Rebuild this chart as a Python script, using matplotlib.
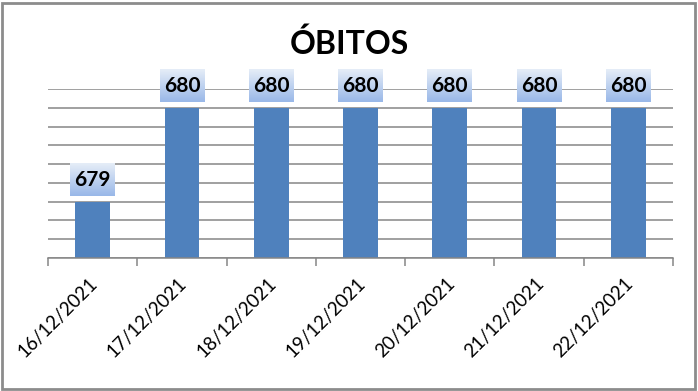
import numpy as np
import matplotlib
matplotlib.use("Agg")
import matplotlib.pyplot as plt
from matplotlib.patches import Rectangle
from matplotlib.transforms import ScaledTranslation

datas = ["16/12/2021", "17/12/2021", "18/12/2021", "19/12/2021",
         "20/12/2021", "21/12/2021", "22/12/2021"]
obitos = [679, 680, 680, 680, 680, 680, 680]

plt.rcParams['font.family'] = ['Lato', 'DejaVu Sans']

fig = plt.figure(figsize=(6.98, 3.91), dpi=100)
ax = fig.add_axes([48 / 698, 1 - 258 / 391, 625 / 698, 169 / 391])

x = np.arange(len(datas))
ymin, ymax = 678.4, 680.2
ax.bar(x, [v - ymin for v in obitos], bottom=ymin, width=0.39,
       color="#4F81BD", zorder=3)

ax.set_xlim(-0.5, len(datas) - 0.5)
ax.set_ylim(ymin, ymax)
ax.set_yticks(np.arange(ymin, ymax + 0.01, 0.2))
ax.yaxis.grid(True, color="#868686", linewidth=1.1)
ax.tick_params(axis='y', left=False, labelleft=False)
for s in ["left", "right", "top"]:
    ax.spines[s].set_visible(False)
ax.spines["bottom"].set_color("#868686")
ax.spines["bottom"].set_linewidth(1.1)
ax.spines["bottom"].set_zorder(4)

# ticks at category boundaries, labels at centres
ax.set_xticks(np.arange(-0.5, len(datas), 1.0))
ax.set_xticklabels([])
ax.tick_params(axis='x', which='major', length=6, color="#868686", width=1.1)
ax.set_xticks(x, minor=True)
ax.set_xticklabels(datas, minor=True, rotation=45, ha='right',
                   rotation_mode='anchor', fontsize=13.5)
ax.tick_params(axis='x', which='minor', length=0, pad=12)
shift = ScaledTranslation(-4 / 100, 0, fig.dpi_scale_trans)
for lbl in ax.get_xticklabels(minor=True):
    lbl.set_transform(lbl.get_transform() + shift)

# gradient label boxes
px_per_unit = 169 / (ymax - ymin)
grad = np.linspace(0, 1, 64).reshape(-1, 1)
top_c = np.array([0.60, 0.72, 0.91])
bot_c = np.array([0.90, 0.93, 0.97])
img = top_c + (bot_c - top_c) * grad
img = img.reshape(64, 1, 3)
for xi, v in zip(x, obitos):
    y0 = v + 6 / px_per_unit
    y1 = v + 38 / px_per_unit
    ax.imshow(img, extent=(xi - 0.25, xi + 0.25, y1, y0), aspect='auto',
              zorder=5, clip_on=False, interpolation='bilinear')
    ax.text(xi, (y0 + y1) / 2, str(v), ha='center', va='center',
            fontsize=15, fontweight='bold', zorder=6, clip_on=False)
ax.set_xlim(-0.5, len(datas) - 0.5)
ax.set_ylim(ymin, ymax)

fig.text(349 / 698, 1 - 44 / 391, "ÓBITOS", ha='center', va='center',
         fontsize=23, fontweight='bold')

fig.patches.append(Rectangle((2 / 698, 2 / 391), 693 / 698, 386 / 391,
                             transform=fig.transFigure, fill=False,
                             edgecolor="#8C8C8C", linewidth=2))

fig.savefig("out.png", dpi=100)
